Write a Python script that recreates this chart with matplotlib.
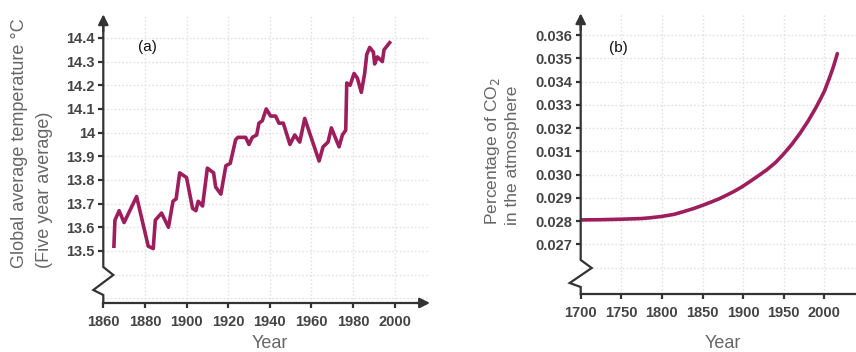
import matplotlib
matplotlib.use("Agg")
import matplotlib.pyplot as plt
import numpy as np

# ---------------- data ----------------
temp_years = [1865.1, 1865.6, 1867.6, 1870.0, 1876.0, 1881.6, 1884.0, 1885.0, 1888.0,
              1891.3, 1893.5, 1895.0, 1896.7, 1900.0, 1902.9, 1904.5, 1905.6, 1907.7,
              1910.0, 1913.0, 1914.0, 1916.5, 1918.9, 1921.0, 1923.6, 1924.7, 1928.4,
              1930.0, 1931.6, 1933.7, 1934.8, 1936.4, 1938.3, 1940.4, 1942.8, 1944.4,
              1946.5, 1949.7, 1952.0, 1954.4, 1956.8, 1963.7, 1965.6, 1968.0, 1969.6,
              1973.3, 1974.9, 1976.5, 1977.0, 1978.6, 1980.5, 1982.1, 1984.0, 1985.6,
              1986.6, 1988.0, 1989.8, 1990.4, 1991.7, 1994.1, 1994.9, 1997.6]
temp_values = [13.52, 13.63, 13.67, 13.62, 13.73, 13.52, 13.51, 13.63, 13.66,
               13.60, 13.71, 13.72, 13.83, 13.81, 13.68, 13.67, 13.71, 13.69,
               13.85, 13.83, 13.77, 13.74, 13.86, 13.87, 13.97, 13.98, 13.98,
               13.95, 13.98, 13.99, 14.04, 14.05, 14.10, 14.07, 14.07, 14.04,
               14.04, 13.95, 13.99, 13.96, 14.06, 13.88, 13.94, 13.96, 14.02,
               13.94, 13.99, 14.01, 14.21, 14.20, 14.25, 14.23, 14.17, 14.25,
               14.33, 14.36, 14.34, 14.29, 14.32, 14.30, 14.35, 14.38]

co2_years = [1700, 1725, 1750, 1775, 1785, 1800, 1815, 1826, 1840, 1851, 1860, 1870,
             1880, 1888, 1898, 1908, 1918, 1929, 1940, 1949, 1960, 1970, 1980, 1990,
             1996, 2000, 2003, 2007, 2011, 2014, 2016]
co2_values = [0.02805, 0.02806, 0.02808, 0.02811, 0.02814, 0.02820, 0.02829, 0.02840,
              0.02855, 0.02869, 0.02881, 0.02895, 0.02912, 0.02926, 0.02946, 0.02969,
              0.02993, 0.03020, 0.03052, 0.03085, 0.03130, 0.03177, 0.03230, 0.03290,
              0.03330, 0.03358, 0.03385, 0.03422, 0.03462, 0.03496, 0.03520]

temp_xticks = [1860, 1880, 1900, 1920, 1940, 1960, 1980, 2000]
temp_yticks = [13.5, 13.6, 13.7, 13.8, 13.9, 14.0, 14.1, 14.2, 14.3, 14.4]
temp_ylabels = ["13.5", "13.6", "13.7", "13.8", "13.9", "14", "14.1", "14.2", "14.3", "14.4"]
co2_xticks = [1700, 1750, 1800, 1850, 1900, 1950, 2000]
co2_yticks = [0.027, 0.028, 0.029, 0.030, 0.031, 0.032, 0.033, 0.034, 0.035, 0.036]
co2_ylabels = ["0.027", "0.028", "0.029", "0.030", "0.031", "0.032", "0.033", "0.034", "0.035", "0.036"]

temp_vgrid = [1880, 1900, 1920, 1940, 1960, 1980, 2000, 2020]
temp_hgrid = [13.3, 13.4, 13.5, 13.6, 13.7, 13.8, 13.9, 14.0, 14.1, 14.2, 14.3, 14.4]
co2_vgrid = [1750, 1800, 1850, 1900, 1950, 2000, 2050]
co2_hgrid = [0.026, 0.027, 0.028, 0.029, 0.030, 0.031, 0.032, 0.033, 0.034, 0.035, 0.036]

# ---------------- style ----------------
plt.rcParams['font.family'] = ['Liberation Sans', 'DejaVu Sans']
W, H = 856, 352
LINE = '#9e1d5c'
AXC = '#333333'
TICKC = '#444444'
LABC = '#666666'
GRIDC = '#e2e2e2'

fig = plt.figure(figsize=(W / 100, H / 100), dpi=100)


def fx(px):
    return px / W


def fy(py):
    return 1 - py / H


def make_axes(x0, x1, ytop, ybot):
    return fig.add_axes([fx(x0), fy(ybot), fx(x1) - fx(x0), fy(ytop) - fy(ybot)])


def draw_frame(ax, ax_px_w, ax_px_h, break_top, break_r, break_l, break_bot, r, arrow_right=True):
    def yf(pxfrombottom):
        return pxfrombottom / ax_px_h

    def xf(px):
        return px / ax_px_w

    xs = [0, 0, xf(-r), xf(r), 0, 0]
    ys = [0, yf(break_bot), yf(break_l), yf(break_r), yf(break_top), 0.965]
    ax.plot(xs, ys, color=AXC, lw=1.6, transform=ax.transAxes, clip_on=False,
            solid_joinstyle='miter', zorder=5)
    ax.annotate('', xy=(0, 1.0), xytext=(0, 0.94), xycoords='axes fraction',
                arrowprops=dict(arrowstyle='-|>,head_length=0.6,head_width=0.3',
                                color=AXC, lw=1.6, shrinkA=0, shrinkB=0), zorder=6)
    ax.plot([0, 0.985 if arrow_right else 1.0], [0, 0], color=AXC, lw=1.6,
            transform=ax.transAxes, clip_on=False, zorder=5)
    if arrow_right:
        ax.annotate('', xy=(1.0, 0), xytext=(0.96, 0), xycoords='axes fraction',
                    arrowprops=dict(arrowstyle='-|>,head_length=0.6,head_width=0.3',
                                    color=AXC, lw=1.6, shrinkA=0, shrinkB=0), zorder=6)
    for s in ax.spines.values():
        s.set_visible(False)


def style_ticks(ax):
    ax.tick_params(axis='y', direction='out', length=3.5, width=1.6, color=AXC,
                   pad=2.5, labelsize=10.5, labelcolor=TICKC)
    ax.tick_params(axis='x', direction='out', length=3.5, width=1.6, color=AXC,
                   pad=5, labelsize=10.5, labelcolor=TICKC)
    for lab in ax.get_xticklabels() + ax.get_yticklabels():
        lab.set_fontweight('bold')


def grid(ax, vg, hg):
    for g in vg:
        ax.axvline(g, color=GRIDC, lw=1.0, ls=(0, (1.2, 1.5)), zorder=0)
    for g in hg:
        ax.axhline(g, color=GRIDC, lw=1.0, ls=(0, (1.2, 1.5)), zorder=0)


# ---------------- panel (a) ----------------
axL = make_axes(103.3, 430, 14.3, 303)
axL.set_xlim(1860, 2017)
axL.set_ylim(13.28, 14.5)
grid(axL, temp_vgrid, temp_hgrid)
axL.plot(temp_years, temp_values, color=LINE, lw=2.6, zorder=3, solid_joinstyle='round')
axL.set_xticks(temp_xticks)
axL.set_yticks(temp_yticks)
axL.set_yticklabels(temp_ylabels)
style_ticks(axL)
draw_frame(axL, 326.7, 288.7, break_top=36, break_r=28, break_l=13, break_bot=8, r=10)
fig.text(fx(147), fy(47), '(a)', ha='center', va='center', fontsize=11, color='#111111')
fig.text(fx(270), fy(343), 'Year', ha='center', va='center', fontsize=13, color=LABC)
fig.text(fx(20), fy(268), 'Global average temperature °C', rotation=90, ha='center',
         va='bottom', fontsize=13, color=LABC)
fig.text(fx(45), fy(268), '(Five year average)', rotation=90, ha='center',
         va='bottom', fontsize=13, color=LABC)

# ---------------- panel (b) ----------------
axR = make_axes(580.7, 856, 13.3, 294)
axR.set_xlim(1700, 2039)
axR.set_ylim(0.024865, 0.036933)
grid(axR, co2_vgrid, co2_hgrid)
axR.plot(co2_years, co2_values, color=LINE, lw=2.6, zorder=3, solid_capstyle='round')
axR.set_xticks(co2_xticks)
axR.set_yticks(co2_yticks)
axR.set_yticklabels(co2_ylabels)
style_ticks(axR)
draw_frame(axR, 275.3, 280.7, break_top=34, break_r=26, break_l=11, break_bot=7, r=11,
           arrow_right=False)
fig.text(fx(618), fy(48), '(b)', ha='center', va='center', fontsize=11, color='#111111')
fig.text(fx(723), fy(343), 'Year', ha='center', va='center', fontsize=13, color=LABC)
fig.text(fx(493), fy(225), 'Percentage of CO$_2$', rotation=90, ha='center',
         va='bottom', fontsize=12.5, color=LABC)
fig.text(fx(513), fy(225), 'in the atmosphere', rotation=90, ha='center',
         va='bottom', fontsize=12.5, color=LABC)

fig.savefig('out.png', dpi=100)
